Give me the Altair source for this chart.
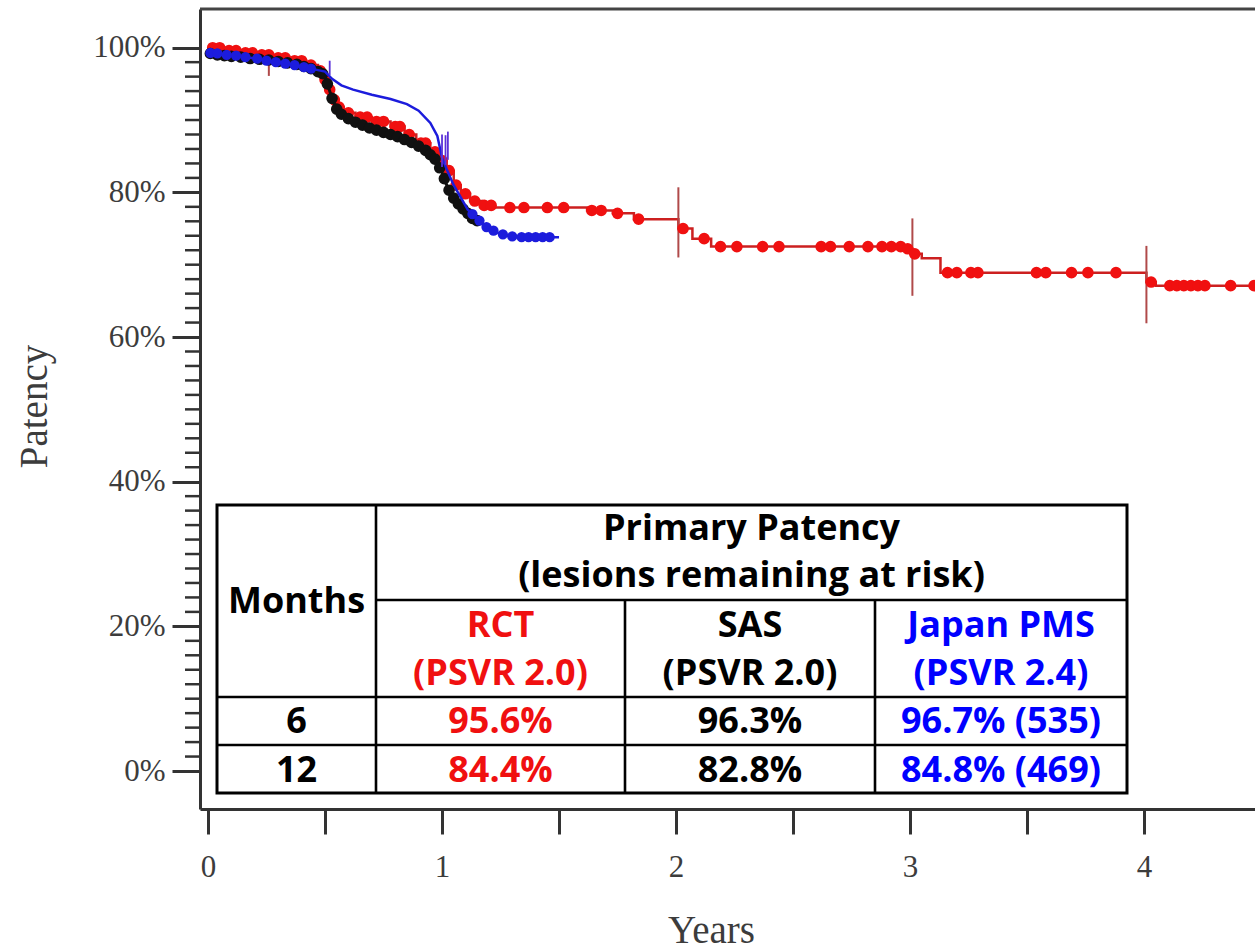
import altair as alt
import pandas as pd

# ---------------- data (time in years, patency in %) -------------
# RCT (PSVR 2.0) Kaplan-Meier curve
RCT_T = [0, 0.08, 0.15, 0.22, 0.28, 0.35, 0.42, 0.47, 0.49, 0.51, 0.53, 0.55, 0.58, 0.63, 0.70,
         0.78, 0.84, 0.89, 0.95, 0.99, 1.02, 1.05, 1.08, 1.12, 1.17, 1.22, 1.62, 1.73, 1.82, 2.01,
         2.07, 2.15, 2.97, 3.01, 3.05, 3.13, 4.01, 4.05, 4.47]
RCT_S = [100, 99.6, 99.3, 99.0, 98.6, 98.2, 97.6, 96.8, 95.6, 94.2, 92.8, 91.8, 91.0, 90.4, 89.8,
         89.1, 88.0, 86.8, 85.6, 84.4, 83.0, 81.0, 79.8, 78.8, 78.2, 77.9, 77.5, 77.1, 76.3, 75.0,
         73.6, 72.5, 72.2, 71.5, 70.9, 68.9, 67.6, 67.1, 67.1]
# RCT censor dots
RCT_CT = [0.02, 0.05, 0.09, 0.12, 0.16, 0.19, 0.23, 0.26, 0.30, 0.33, 0.37, 0.40, 0.44, 0.48, 0.50,
          0.52, 0.54, 0.56, 0.60, 0.65, 0.68, 0.72, 0.75, 0.80, 0.82, 0.86, 0.91, 0.93, 0.97, 1.00,
          1.03, 1.06, 1.10, 1.14, 1.18, 1.21, 1.29, 1.35, 1.45, 1.52, 1.64, 1.68, 1.75, 1.84, 2.03,
          2.12, 2.19, 2.26, 2.37, 2.44, 2.62, 2.66, 2.74, 2.82, 2.88, 2.92, 2.96, 2.99, 3.02, 3.16,
          3.20, 3.26, 3.29, 3.54, 3.58, 3.69, 3.76, 3.88, 4.03, 4.11, 4.14, 4.17, 4.20, 4.23, 4.26,
          4.37, 4.47]
RCT_CS = [100, 100, 99.6, 99.6, 99.3, 99.3, 99.0, 99.0, 98.6, 98.6, 98.2, 98.2, 97.6, 96.8, 95.6,
          94.2, 92.8, 91.8, 91.0, 90.4, 90.4, 89.8, 89.8, 89.1, 89.1, 88.0, 86.8, 86.8, 85.6, 84.4,
          83.0, 81.0, 79.8, 78.8, 78.2, 78.2, 77.9, 77.9, 77.9, 77.9, 77.5, 77.5, 77.1, 76.3, 75.0,
          73.6, 72.5, 72.5, 72.5, 72.5, 72.5, 72.5, 72.5, 72.5, 72.5, 72.5, 72.5, 72.2, 71.5, 68.9,
          68.9, 68.9, 68.9, 68.9, 68.9, 68.9, 68.9, 68.9, 67.6, 67.1, 67.1, 67.1, 67.1, 67.1, 67.1,
          67.1, 67.1]
# RCT vertical marks (time, low, high)
RCT_MARK_T = [0.26, 2.01, 3.01, 4.01]
RCT_MARK_LO = [96.1, 71.0, 65.7, 61.9]
RCT_MARK_HI = [97.6, 80.7, 76.4, 72.6]

# SAS (PSVR 2.0)
SAS_T = [0, 0.05, 0.12, 0.20, 0.28, 0.35, 0.42, 0.46, 0.50, 0.51, 0.53, 0.55, 0.58, 0.62, 0.68,
         0.75, 0.82, 0.88, 0.93, 0.97, 1.00, 1.02, 1.04, 1.07, 1.10, 1.13, 1.16]
SAS_S = [99.2, 99.0, 98.8, 98.5, 98.2, 97.9, 97.4, 96.8, 96.3, 95.0, 93.0, 91.5, 90.5, 89.8, 89.0,
         88.3, 87.6, 86.8, 85.8, 84.6, 82.8, 81.0, 79.6, 78.4, 77.4, 76.4, 76.0]
SAS_CT = [0.01, 0.04, 0.07, 0.10, 0.14, 0.18, 0.22, 0.26, 0.30, 0.34, 0.38, 0.41, 0.44, 0.47, 0.49,
          0.51, 0.53, 0.55, 0.57, 0.60, 0.63, 0.66, 0.69, 0.72, 0.75, 0.78, 0.81, 0.84, 0.87, 0.90,
          0.93, 0.95, 0.97, 0.99, 1.01, 1.03, 1.05, 1.07, 1.09, 1.11, 1.13, 1.15]
SAS_CS = [99.2, 99.0, 98.9, 98.8, 98.7, 98.5, 98.4, 98.3, 98.1, 97.9, 97.7, 97.4, 97.1, 96.7, 96.4,
          95.0, 93.0, 91.5, 90.8, 90.2, 89.7, 89.3, 88.9, 88.6, 88.3, 88.0, 87.7, 87.3, 86.9, 86.4,
          85.8, 85.2, 84.6, 83.4, 81.9, 80.3, 79.2, 78.4, 77.7, 77.1, 76.4, 76.1]

# Japan PMS (PSVR 2.4)
PMS_T = [0, 0.10, 0.20, 0.30, 0.40, 0.47, 0.50, 0.53, 0.57, 0.62, 0.70, 0.78, 0.85, 0.90, 0.95,
         0.98, 1.00, 1.02, 1.05, 1.08, 1.11, 1.15, 1.19, 1.23, 1.28, 1.33, 1.50]
PMS_S = [99.3, 99.0, 98.5, 98.0, 97.4, 96.9, 96.7, 95.7, 94.8, 94.2, 93.5, 92.9, 92.2, 91.3, 89.6,
         87.8, 84.8, 83.2, 81.0, 79.3, 77.6, 76.4, 75.2, 74.5, 74.0, 73.8, 73.8]
PMS_CT = [0.01, 0.04, 0.08, 0.12, 0.16, 0.21, 0.25, 0.29, 0.33, 0.37, 0.41, 0.44,
          1.13, 1.16, 1.19, 1.22, 1.26, 1.30, 1.34, 1.37, 1.40, 1.43, 1.46]
PMS_CS = [99.3, 99.2, 99.0, 98.9, 98.7, 98.5, 98.2, 98.0, 97.8, 97.6, 97.3, 97.1,
          77.0, 76.1, 75.2, 74.7, 74.2, 73.9, 73.8, 73.8, 73.8, 73.8, 73.8]
PMS_MARK_T = [0.52, 1.00, 1.015, 1.025]
PMS_MARK_LO = [96.2, 83.5, 83.8, 84.5]
PMS_MARK_HI = [98.2, 88.0, 87.9, 88.4]

# axis ticks
X_TICKS = [0, 0.5, 1, 1.5, 2, 2.5, 3, 3.5, 4]
Y_TICKS = [0, 20, 40, 60, 80, 100]
Y_MINOR = [2, 4, 6, 8, 10, 12, 14, 16, 18, 22, 24, 26, 28, 30, 32, 34, 36, 38,
           42, 44, 46, 48, 50, 52, 54, 56, 58, 62, 64, 66, 68, 70, 72, 74, 76, 78,
           82, 84, 86, 88, 90, 92, 94, 96, 98]

# table contents
TBL_HEAD1 = "Primary Patency"
TBL_HEAD2 = "(lesions remaining at risk)"
TBL_MONTHS_HEAD = "Months"
TBL_GROUPS = ["RCT", "SAS", "Japan PMS"]
TBL_PSVR = ["(PSVR 2.0)", "(PSVR 2.0)", "(PSVR 2.4)"]
TBL_MONTHS = ["6", "12"]
TBL_RCT = ["95.6%", "84.4%"]
TBL_SAS = ["96.3%", "82.8%"]
TBL_PMS = ["96.7% (535)", "84.8% (469)"]

RED = "#f01010"
RED_LINE = "#cc2020"
MARK_RED = "#b04a4a"
BLACK = "#111111"
BLUE = "#1c1cdc"
BLUE_TXT = "#0000ff"
AXIS_C = "#333333"
LABEL_C = "#3c3c3c"

W, H = 1055, 800
XS = alt.Scale(domain=[-0.0342, 4.474], nice=False, zero=False)
YS = alt.Scale(domain=[-5.25, 105.35], nice=False, zero=False)

def df(**cols):
    return pd.DataFrame(cols)

X_AXIS = alt.Axis(values=X_TICKS,
                  labelExpr="datum.value % 1 == 0 ? format(datum.value, 'd') : ''",
                  tickSize=25, tickWidth=3, tickColor=AXIS_C, domainColor=AXIS_C, domainWidth=3,
                  labelFont="Liberation Serif", labelFontSize=31, labelColor=LABEL_C,
                  labelPadding=18, labelFlush=False, labelOverlap=False, grid=False,
                  title="Years", titleFont="Liberation Serif", titleFontSize=39,
                  titleFontWeight="normal", titleColor=LABEL_C, titleX=511, titleY=133,
                  titleAlign="center", titleBaseline="alphabetic")
Y_AXIS = alt.Axis(values=Y_TICKS, labelExpr="datum.value + '%'",
                  tickSize=28, tickWidth=3, tickColor=AXIS_C, domainColor=AXIS_C, domainWidth=3,
                  labelFont="Liberation Serif", labelFontSize=31, labelColor=LABEL_C,
                  labelPadding=7, labelFlush=False, labelOverlap=False, grid=False,
                  title="Patency", titleFont="Liberation Serif", titleFontSize=39,
                  titleFontWeight="normal", titleColor=LABEL_C, titleX=-166, titleY=397,
                  titleAngle=270, titleAlign="center", titleBaseline="middle")

def xq(f):
    return alt.X(f"{f}:Q", scale=XS, axis=X_AXIS, title="Years")

def yq(f):
    return alt.Y(f"{f}:Q", scale=YS, axis=Y_AXIS, title="Patency")

# frame / minor ticks
top_line = alt.Chart(df(a=[0])).mark_rule(color="#444444", strokeWidth=3).encode(
    x=alt.value(0), x2=alt.value(W), y=alt.value(0))
minor = alt.Chart(df(v=Y_MINOR)).mark_rule(color=AXIS_C, strokeWidth=2.5).encode(
    y=yq("v"), x=alt.value(-15), x2=alt.value(0))

# curves
rct_line = alt.Chart(df(t=RCT_T, s=RCT_S)).mark_line(
    color=RED_LINE, strokeWidth=2.5, interpolate="step-after").encode(x=xq("t"), y=yq("s"))
rct_dots = alt.Chart(df(t=RCT_CT, s=RCT_CS)).mark_circle(color=RED, size=135, opacity=1).encode(
    x=xq("t"), y=yq("s"))
rct_marks = alt.Chart(df(t=RCT_MARK_T, lo=RCT_MARK_LO, hi=RCT_MARK_HI)).mark_rule(
    color=MARK_RED, strokeWidth=2).encode(x=xq("t"), y=yq("lo"), y2="hi")

sas_line = alt.Chart(df(t=SAS_T, s=SAS_S)).mark_line(color=BLACK, strokeWidth=3).encode(
    x=xq("t"), y=yq("s"))
sas_dots = alt.Chart(df(t=SAS_CT, s=SAS_CS)).mark_circle(color=BLACK, size=135, opacity=1).encode(
    x=xq("t"), y=yq("s"))

pms_line = alt.Chart(df(t=PMS_T, s=PMS_S)).mark_line(color=BLUE, strokeWidth=2.5).encode(
    x=xq("t"), y=yq("s"))
pms_dots = alt.Chart(df(t=PMS_CT, s=PMS_CS)).mark_circle(color=BLUE, size=105, opacity=1).encode(
    x=xq("t"), y=yq("s"))
pms_marks = alt.Chart(df(t=PMS_MARK_T, lo=PMS_MARK_LO, hi=PMS_MARK_HI)).mark_rule(
    color="#5a30d8", strokeWidth=1.8).encode(x=xq("t"), y=yq("lo"), y2="hi")

# ---------------- table overlay (layout in pixels of the plot area) ----------------
TL, TR, TT, TB = 17, 927, 496, 784
C1, C2, C3 = 176, 425, 675
R1, R2, R3 = 591, 688, 736

def pxX(f):
    return alt.X(f"{f}:Q", scale=None, axis=None)

def pxY(f):
    return alt.Y(f"{f}:Q", scale=None, axis=None)

tbl_box = alt.Chart(df(x=[TL], x2=[TR], y=[TT], y2=[TB])).mark_rect(
    fill="white", stroke="black", strokeWidth=3).encode(
    x=pxX("x"), x2="x2", y=pxY("y"), y2="y2")
tbl_lines = alt.Chart(df(
    x=[C1, C2, C3, C1, TL, TL], x2=[C1, C2, C3, TR, TR, TR],
    y=[TT, R1, R1, R1, R2, R3], y2=[TB, TB, TB, R1, R2, R3])).mark_rule(
    color="black", strokeWidth=2.6).encode(x=pxX("x"), x2="x2", y=pxY("y"), y2="y2")

cx_m, cx_r, cx_s, cx_p = (TL + C1) / 2, (C1 + C2) / 2, (C2 + C3) / 2, (C3 + TR) / 2
cx_h = (C1 + TR) / 2
grp_colors = [RED, "black", BLUE_TXT]
texts = {"x": [], "y": [], "t": [], "c": []}
def add(x, y, t, c):
    texts["x"].append(x); texts["y"].append(y); texts["t"].append(t); texts["c"].append(c)
add(cx_h, 531, TBL_HEAD1, "black")
add(cx_h, 578, TBL_HEAD2, "black")
add(cx_m, 604, TBL_MONTHS_HEAD, "black")
for cx, g, p, c in zip([cx_r, cx_s, cx_p], TBL_GROUPS, TBL_PSVR, grp_colors):
    add(cx, 628, g, c)
    add(cx, 676, p, c)
for ry, m, a, b, d in zip([724, 773], TBL_MONTHS, TBL_RCT, TBL_SAS, TBL_PMS):
    add(cx_m, ry, m, "black")
    add(cx_r, ry, a, RED)
    add(cx_s, ry, b, "black")
    add(cx_p, ry, d, BLUE_TXT)
tbl_text = alt.Chart(pd.DataFrame(texts)).mark_text(
    font="Open Sans", fontWeight="bold", fontSize=36, align="center", baseline="alphabetic").encode(
    x=pxX("x"), y=pxY("y"), text="t:N", color=alt.Color("c:N", scale=None))

chart = alt.layer(
    rct_line, minor, top_line, rct_marks, rct_dots, sas_line, sas_dots,
    pms_line, pms_dots, pms_marks, tbl_box, tbl_lines, tbl_text
).properties(
    width=W, height=H,
    padding={"left": 200, "top": 9, "right": 0, "bottom": 140},
    autosize=alt.AutoSizeParams(type="none"),
    background="white",
).configure_view(stroke=None)

chart.save("out.html", embed_options={"renderer": "svg", "actions": False})
